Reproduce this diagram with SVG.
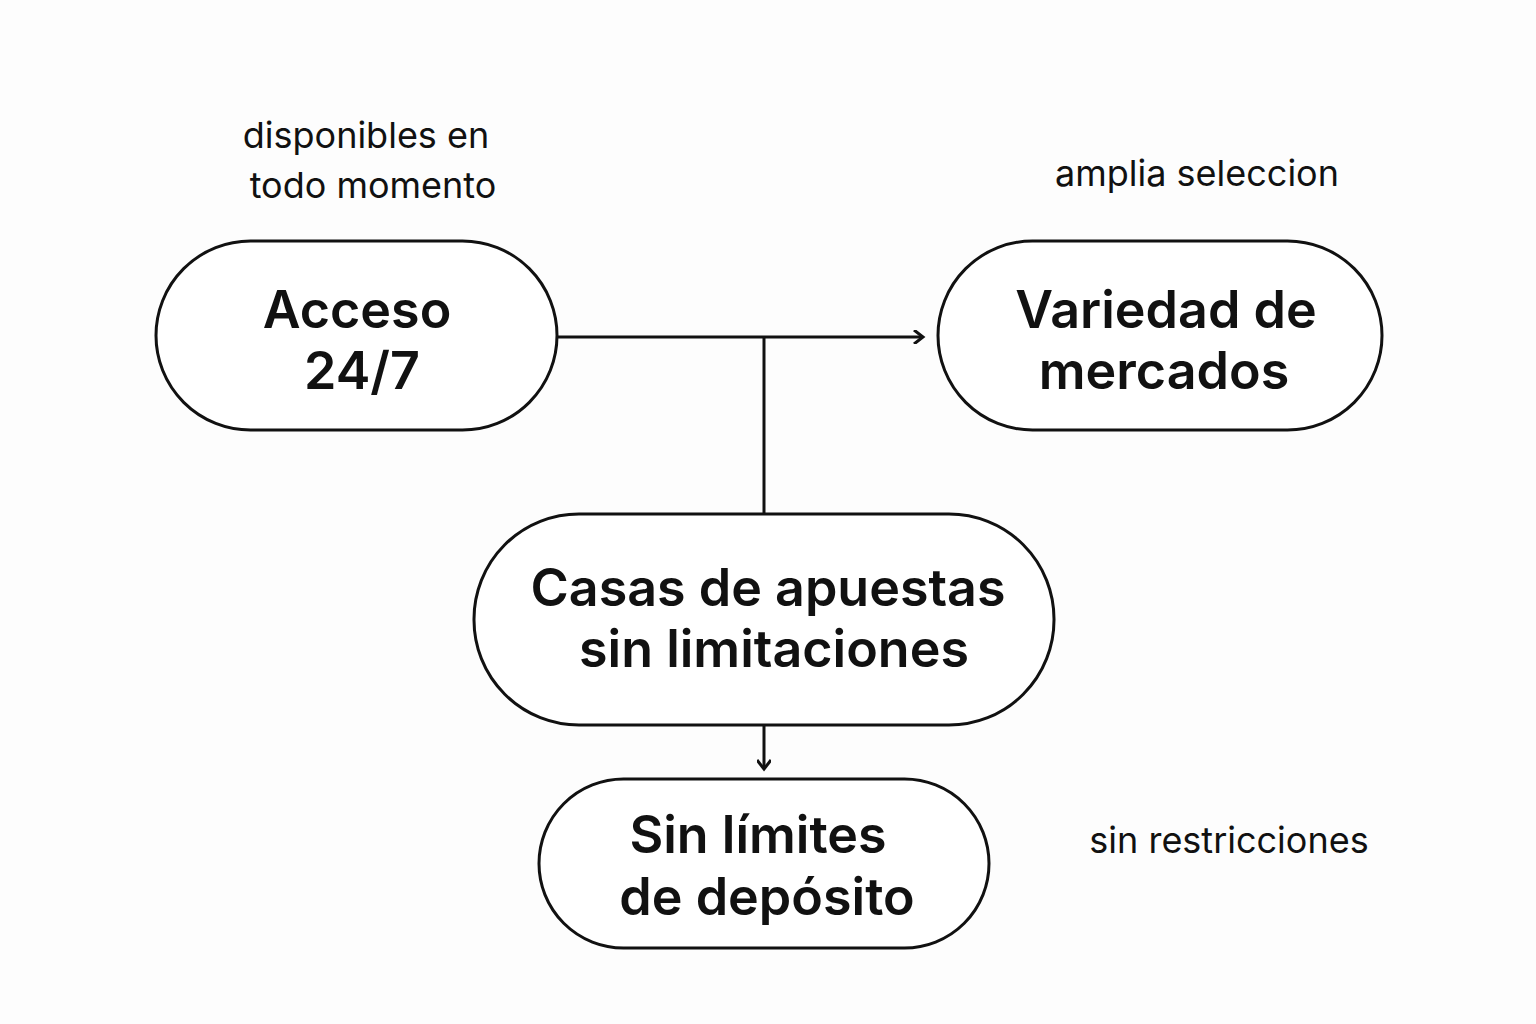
<svg xmlns="http://www.w3.org/2000/svg" width="1536" height="1024" viewBox="0 0 1536 1024">
<style>
.n{fill:#fff;stroke:#111;stroke-width:3}
.t{font-family:Inter,"Liberation Sans",sans-serif;font-weight:600;font-size:52px;fill:#111;text-anchor:middle}
.s{font-family:Inter,"Liberation Sans",sans-serif;font-size:36px;fill:#111;text-anchor:middle}
.c{fill:none;stroke:#111;stroke-width:3}
</style>
<defs><marker id="a" markerWidth="14" markerHeight="14" refX="11" refY="7" orient="auto" markerUnits="userSpaceOnUse"><path d="M2,0 L11,7 L2,14" fill="none" stroke="#111" stroke-width="3"/></marker></defs>
<rect width="1536" height="1024" fill="#fdfdfd"/>
<g id="connectors">
<path class="c" d="M557,337 H923" marker-end="url(#a)"/>
<path class="c" d="M764,337 V514"/>
<path class="c" d="M764,725 V769" marker-end="url(#a)"/>
</g>
<g id="acceso"><rect class="n" x="156" y="241" width="401" height="189" rx="94.5"/><text class="t" x="357" y="328">Acceso</text><text class="t" x="362" y="389">24/7</text></g>
<g id="variedad"><rect class="n" x="938" y="241" width="444" height="189" rx="94.5"/><text class="t" x="1166" y="328">Variedad de</text><text class="t" x="1164" y="389">mercados</text></g>
<g id="casas"><rect class="n" x="474" y="514" width="580" height="211" rx="105"/><text class="t" x="768" y="606">Casas de apuestas</text><text class="t" x="774" y="667">sin limitaciones</text></g>
<g id="sinlimites"><rect class="n" x="539" y="779" width="450" height="169" rx="84.5"/><text class="t" x="758" y="853">Sin límites</text><text class="t" x="767" y="915">de depósito</text></g>
<g id="labels">
<text class="s" x="366" y="148">disponibles en</text><text class="s" x="373" y="198">todo momento</text>
<text class="s" x="1197" y="186">amplia seleccion</text>
<text class="s" x="1229" y="853">sin restricciones</text>
</g>
</svg>
